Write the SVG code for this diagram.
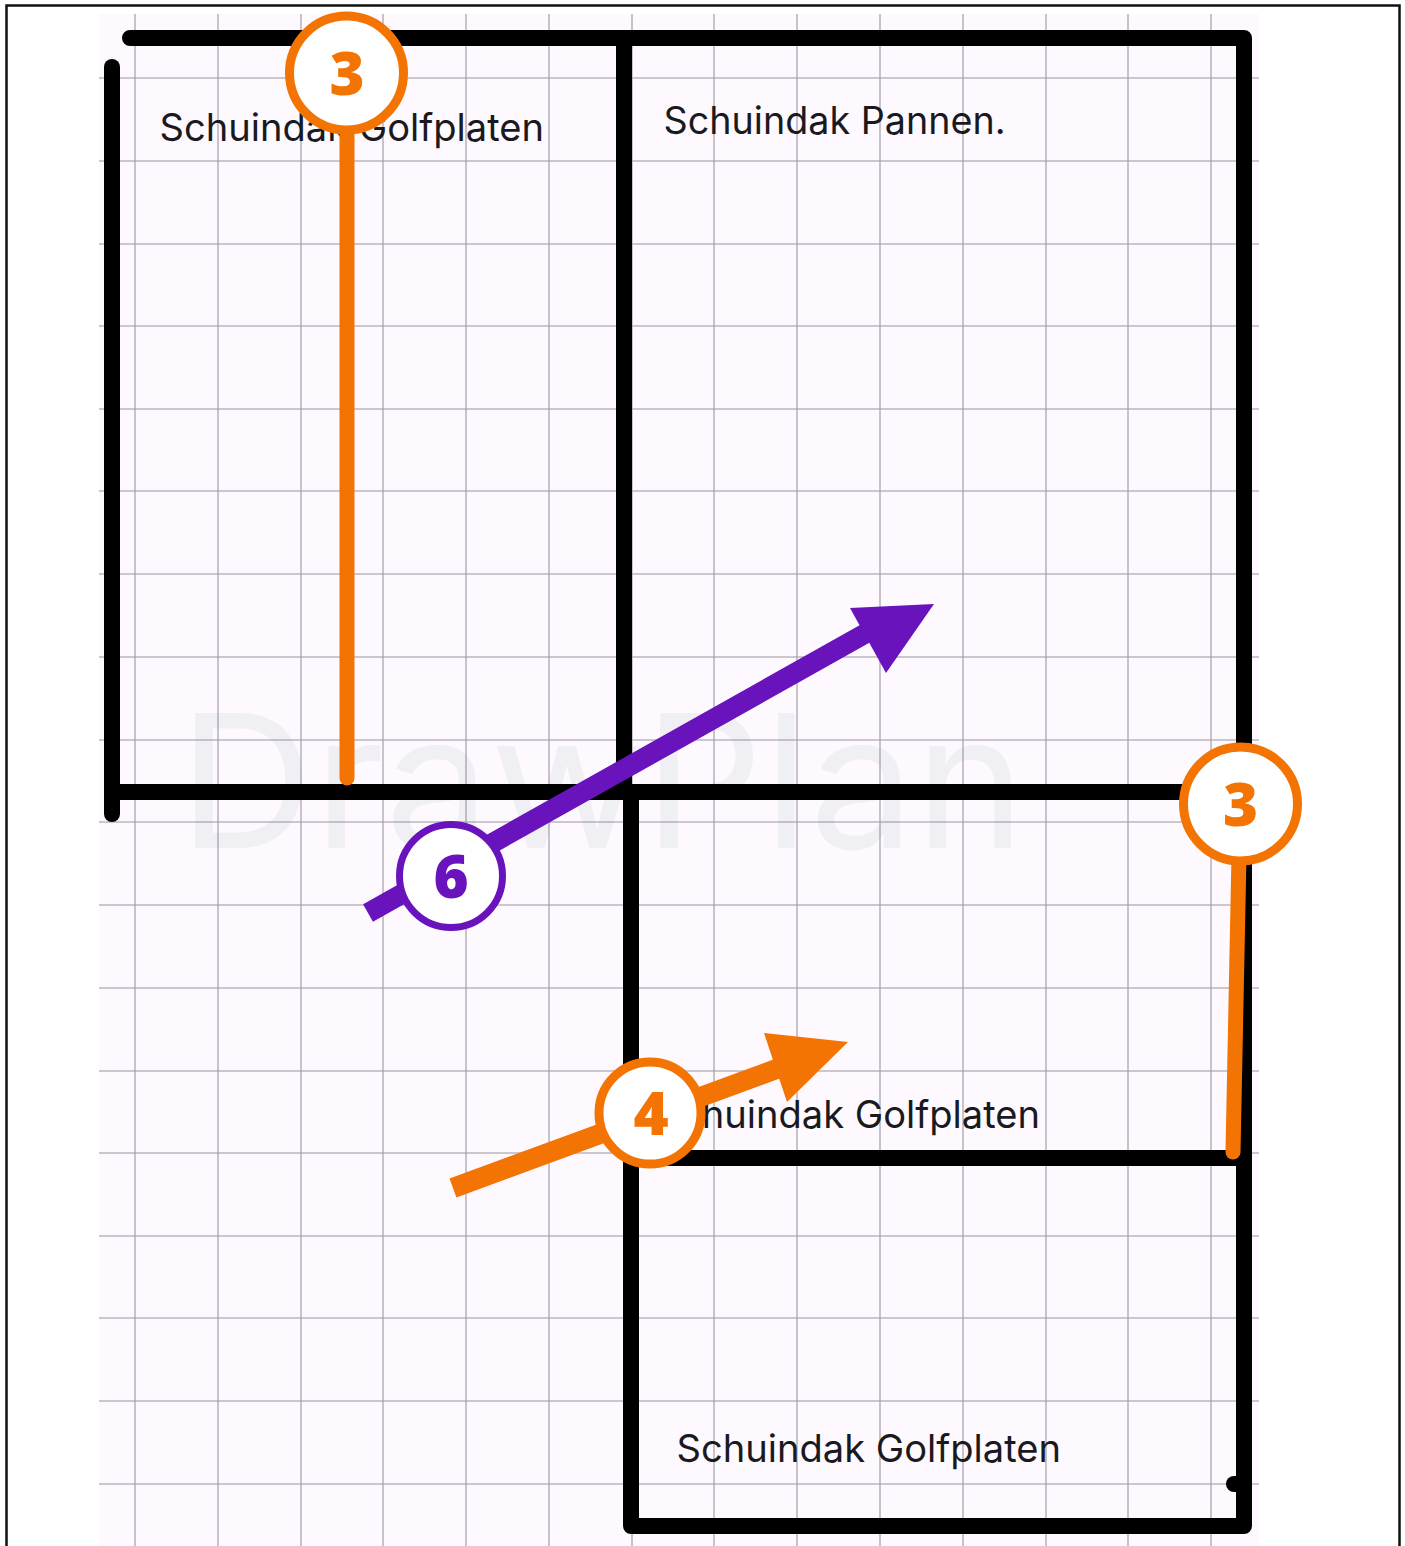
<svg xmlns="http://www.w3.org/2000/svg" width="1405" height="1546" viewBox="0 0 1405 1546">
<style>
.wall{stroke:#000;stroke-width:16;stroke-linecap:round;stroke-linejoin:round;fill:none}
.grid{stroke:#5f5565;stroke-opacity:.6;stroke-width:1.1;fill:none}
.lbl{font-family:Inter,"Liberation Sans",sans-serif;font-size:38.1px;fill:#1a1a1e}
.num{font-family:"Open Sans","Noto Sans",sans-serif;font-weight:800;font-size:60px;text-anchor:middle}
.o{stroke:#f37303;fill:none}.p{stroke:#6813bc;fill:none}
.ring{fill:#fff;stroke-width:9}
</style>
<rect width="1405" height="1546" fill="#fff"/>
<rect x="6.500" y="5.500" width="1393" height="1560" fill="none" stroke="#111" stroke-width="2.500"/>
<g id="plan-background">
<rect x="99" y="14" width="1160" height="1532" fill="#fdf9fe"/>
<text x="179" y="848" font-family="Inter,'Liberation Sans',sans-serif" font-size="186" letter-spacing="1" fill="#f0eff3">DrawPlan</text>
<path class="grid" d="M135 14V1546M218 14V1546M301 14V1546M383 14V1546M466 14V1546M549 14V1546M632 14V1546M714 14V1546M797 14V1546M880 14V1546M963 14V1546M1046 14V1546M1128 14V1546M1211 14V1546M99 78H1259M99 161H1259M99 244H1259M99 326H1259M99 409H1259M99 491H1259M99 574H1259M99 657H1259M99 740H1259M99 822H1259M99 905H1259M99 988H1259M99 1071H1259M99 1153H1259M99 1236H1259M99 1318H1259M99 1401H1259M99 1484H1259"/>
</g>
<g id="walls">
<path class="wall" d="M130 38H1244V1526H631V792"/>
<path class="wall" d="M112 67V814"/>
<path class="wall" d="M112 792H1190"/>
<path class="wall" d="M624 38V792"/>
<path class="wall" d="M640 1158H1244"/>
<path class="wall" d="M1234 1484H1244"/>
</g>
<g id="labels">
<text class="lbl" x="159.500" y="141">Schuindak Golfplaten</text>
<text class="lbl" style="font-size:37.700px" x="663.500" y="134">Schuindak Pannen.</text>
<text class="lbl" x="655.500" y="1128">Schuindak Golfplaten</text>
<text class="lbl" x="676.500" y="1462">Schuindak Golfplaten</text>
</g>
<g id="connectors">
<path class="o" stroke-width="15" stroke-linecap="round" d="M347 75V778"/>
<path class="o" stroke-width="15" stroke-linecap="round" d="M1240 805L1233 1152"/>
<path class="o" stroke-width="20" d="M453 1188L790 1064"/>
<polygon points="848,1042 764,1033 787,1102" fill="#f37303"/>
<path class="p" stroke-width="20" d="M368 913L868 632"/>
<polygon points="934,604 850,608 886,673" fill="#6813bc"/>
</g>
<g id="marker-3a"><circle class="ring o" style="fill:#fff" cx="346.500" cy="73" r="57"/><text class="num" x="347" y="94.500" fill="#f37303">3</text></g>
<g id="marker-3b"><circle class="ring o" style="fill:#fff" cx="1240.500" cy="804" r="57"/><text class="num" x="1240.500" y="826" fill="#f37303">3</text></g>
<g id="marker-4"><circle class="ring o" style="fill:#fff" cx="650" cy="1113" r="51"/><text class="num" x="651" y="1135" fill="#f37303">4</text></g>
<g id="marker-6"><circle class="ring p" style="fill:#fff;stroke-width:7" cx="451" cy="876" r="51.500"/><text class="num" x="451" y="898" fill="#6813bc">6</text></g>
</svg>
